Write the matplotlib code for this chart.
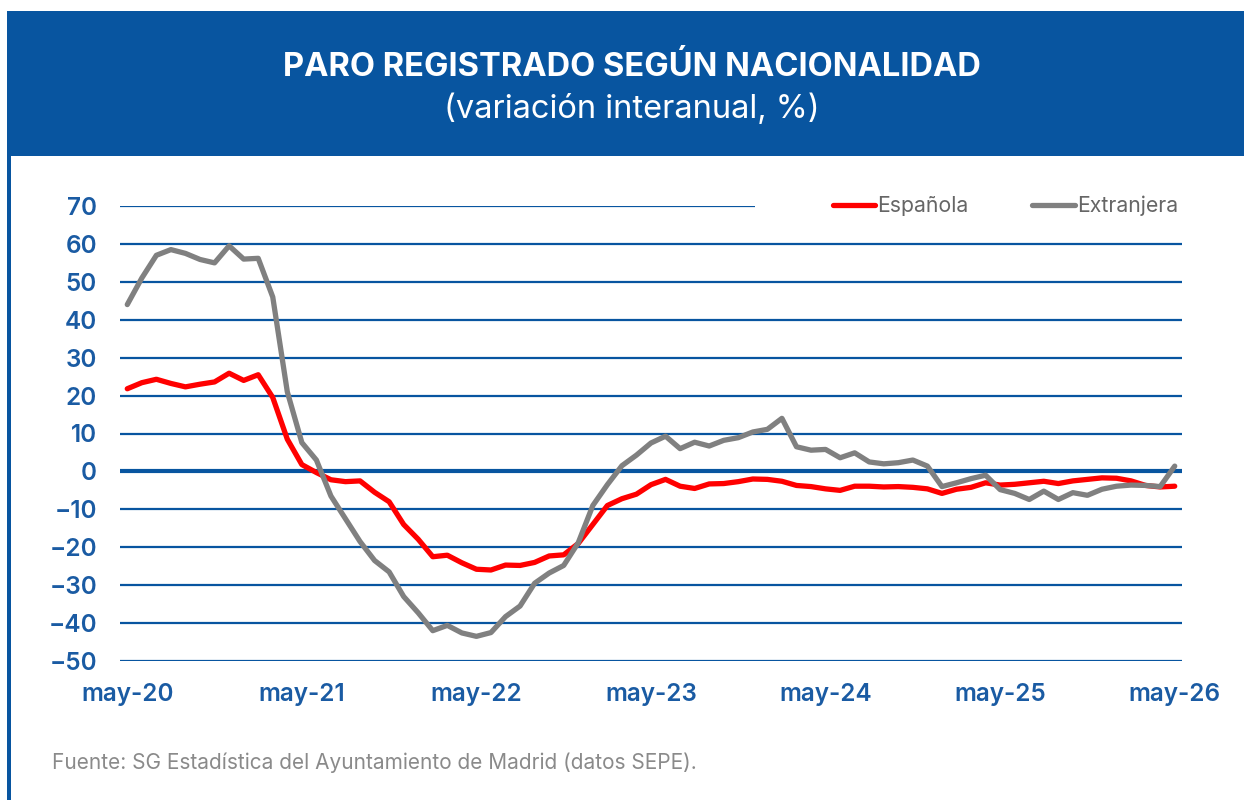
import matplotlib
matplotlib.use('Agg')
import matplotlib.pyplot as plt
from matplotlib.patches import Rectangle
from matplotlib.lines import Line2D

# monthly data, may-20 .. may-26 (year-on-year change, %)
espanola = [21.8, 23.4, 24.3, 23.2, 22.3, 23.0, 23.6, 25.9, 24.0, 25.5,
            19.5, 8.5, 1.8, -0.3, -2.2, -2.7, -2.5, -5.5, -8.0, -14.0,
            -17.9, -22.5, -22.1, -24.1, -25.8, -26.0, -24.7, -24.8, -24.0, -22.3,
            -22.0, -19.0, -14.0, -9.0, -7.2, -6.0, -3.5, -2.1, -3.9, -4.5,
            -3.3, -3.2, -2.7, -2.0, -2.1, -2.6, -3.7, -4.0, -4.6, -5.0,
            -3.9, -3.9, -4.1, -4.0, -4.2, -4.6, -5.8, -4.7, -4.2, -3.0,
            -3.6, -3.4, -3.0, -2.6, -3.2, -2.5, -2.1, -1.7, -1.8, -2.5,
            -3.7, -4.1, -3.9]
extranjera = [44.0, 51.0, 57.0, 58.5, 57.5, 55.9, 55.0, 59.5, 56.0, 56.2,
              46.0, 21.0, 7.6, 3.0, -6.5, -12.5, -18.5, -23.5, -26.5, -33.0,
              -37.3, -42.0, -40.6, -42.6, -43.5, -42.5, -38.3, -35.5, -29.5, -26.8,
              -24.8, -18.8, -9.0, -3.5, 1.5, 4.3, 7.5, 9.3, 6.0, 7.7,
              6.7, 8.2, 8.9, 10.4, 11.1, 14.0, 6.5, 5.6, 5.8, 3.6,
              4.9, 2.5, 2.0, 2.3, 3.0, 1.4, -4.0, -3.0, -1.9, -1.0,
              -4.8, -5.8, -7.4, -5.2, -7.4, -5.6, -6.3, -4.7, -3.9, -3.6,
              -3.7, -4.0, 1.4]
tick_labels = ['may-20', 'may-21', 'may-22', 'may-23', 'may-24', 'may-25', 'may-26']
y_ticks = list(range(-50, 80, 10))

BLUE = '#0855A0'
TICK_BLUE = '#1A5BA3'
W, H = 1244, 800

plt.rcParams['font.family'] = ['Inter', 'DejaVu Sans']

fig = plt.figure(figsize=(W / 100, H / 100), dpi=100)

# header band and left border
fig.patches.append(Rectangle((7 / W, 1 - 156 / H), 1 - 7 / W, 145 / H,
                             transform=fig.transFigure, facecolor=BLUE, edgecolor='none'))
fig.patches.append(Rectangle((7 / W, 0), 4 / W, 1 - 156 / H,
                             transform=fig.transFigure, facecolor=BLUE, edgecolor='none'))
fig.text(632 / W, 1 - 67 / H, 'PARO REGISTRADO SEGÚN NACIONALIDAD', color='white',
         fontsize=23.5, fontweight='bold', ha='center', va='center')
fig.text(632 / W, 1 - 109 / H, '(variación interanual, %)', color='white',
         fontsize=23.5, ha='center', va='center')

ax = fig.add_axes([120 / W, 1 - 661 / H, 1062 / W, 455 / H])
x = list(range(len(espanola)))

for v in y_ticks:
    ax.axhline(v, color=BLUE, lw=3.0 if v == 0 else 1.6, zorder=1)

ax.plot(x, espanola, color='#FF0000', lw=3.8, solid_joinstyle='round',
        solid_capstyle='round', zorder=3)
ax.plot(x, extranjera, color='#808080', lw=3.8, solid_joinstyle='round',
        solid_capstyle='round', zorder=3)

ax.set_xlim(-0.5, 72.5)
ax.set_ylim(-50, 70)
ax.set_yticks(y_ticks)
ax.set_xticks(range(0, 73, 12))
ax.set_xticklabels(tick_labels)
ax.tick_params(length=0, labelsize=17.5, labelcolor=TICK_BLUE)
ax.tick_params(axis='y', pad=16.5)
ax.tick_params(axis='x', pad=15.5)
for lab in ax.get_xticklabels() + ax.get_yticklabels():
    lab.set_fontweight('semibold')
for s in ax.spines.values():
    s.set_visible(False)

# white box behind the legend over the top gridline
ax.add_patch(Rectangle(((755 - 120) / 1062, 0.965), 1 - (755 - 120) / 1062, 0.07,
                       transform=ax.transAxes, facecolor='white', edgecolor='none',
                       zorder=2, clip_on=False))
handles = [Line2D([], [], color='#FF0000', lw=3.8, solid_capstyle='round'),
           Line2D([], [], color='#808080', lw=3.8, solid_capstyle='round')]
leg = fig.legend(handles, ['Española', 'Extranjera'], ncol=2, frameon=False,
                 loc='center right', bbox_to_anchor=(1178 / W, 1 - 206 / H),
                 fontsize=15.3, handlelength=2.0, handletextpad=0.1,
                 columnspacing=3.0, borderpad=0, borderaxespad=0)
for t in leg.get_texts():
    t.set_color('#666666')

fig.text(52 / W, 1 - 763 / H, 'Fuente: SG Estadística del Ayuntamiento de Madrid (datos SEPE).',
         color='#8A8A8A', fontsize=15, ha='left', va='center')

fig.savefig('out.png', dpi=100)
